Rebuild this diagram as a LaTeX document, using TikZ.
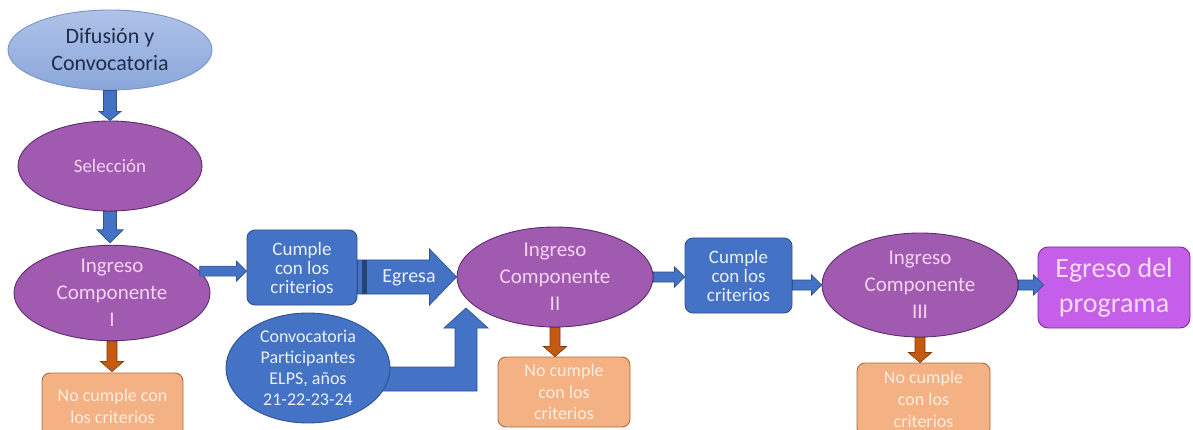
\documentclass[tikz,border=0pt]{standalone}
\usepackage{fontspec}
\setmainfont{Carlito}
\usetikzlibrary{calc,shapes.geometric}
\definecolor{myblue}{HTML}{4472C4}
\definecolor{mybluedark}{HTML}{2F528F}
\definecolor{lbtop}{HTML}{AFC3E8}
\definecolor{lbbot}{HTML}{8AA6DA}
\definecolor{lbline}{HTML}{7893CB}
\definecolor{lbtext}{HTML}{1F2D4D}
\definecolor{purp}{HTML}{A05BB0}
\definecolor{purpline}{HTML}{5B2C6F}
\definecolor{purptext}{HTML}{F4D2F0}
\definecolor{orfill}{HTML}{F4B183}
\definecolor{orline}{HTML}{B06A3A}
\definecolor{ortext}{HTML}{FDEDE0}
\definecolor{orarrow}{HTML}{C55A11}
\definecolor{orarrowline}{HTML}{843C0C}
\definecolor{vio}{HTML}{C55EE8}
\definecolor{violine}{HTML}{7A2E9A}
\definecolor{viotext}{HTML}{FADCF8}
\definecolor{bltext}{HTML}{EAF0FA}
\newcommand\barrowdraw[6]{%
  \path (#1) coordinate (bas) (#2) coordinate (bat);
  \path ($(bat)!#5!(bas)$) coordinate (bah);
  \draw[#6] ($(bas)!#3!90:(bat)$) -- ($(bah)!#3!90:(bat)$) -- ($(bah)!#4!90:(bat)$)
    -- (bat) -- ($(bah)!#4!-90:(bat)$) -- ($(bah)!#3!-90:(bat)$) -- ($(bas)!#3!-90:(bat)$) -- cycle;}
\tikzset{
  purpell/.style={ellipse, fill=purp, draw=purpline, line width=0.9pt, inner sep=0pt,
    align=center, text=purptext, font=\fontsize{21}{27}\selectfont},
  bluebox/.style={rectangle, rounded corners=8pt, fill=myblue, draw=mybluedark, line width=0.9pt,
    inner sep=0pt, align=center, text=bltext, font=\fontsize{19}{19}\selectfont},
  orbox/.style={rectangle, rounded corners=8pt, fill=orfill, draw=orline, line width=0.9pt,
    inner sep=0pt, align=center, text=ortext, font=\fontsize{18}{22}\selectfont},
  bluearr/.style={fill=myblue, draw=mybluedark, line width=0.7pt, line join=miter},
  orarr/.style={fill=orarrow, draw=orarrowline, line width=0.7pt, line join=miter}
}
\begin{document}
\begin{tikzpicture}[x=1pt,y=-1pt]
\useasboundingbox (0,0) rectangle (1193,430);
\clip (0,0) rectangle (1193,430);
\fill[white] (0,0) rectangle (1193,430);

% nodes
\node[ellipse, top color=lbtop, bottom color=lbbot, draw=lbline, line width=0.9pt, inner sep=0pt,
  minimum width=204pt, minimum height=80pt, align=center, text=lbtext,
  font=\fontsize{22}{27}\selectfont] (dif) at (110,50) {Difusión y\\Convocatoria};
\node[purpell, minimum width=184pt, minimum height=90pt, font=\fontsize{19}{24}\selectfont] (sel) at (110,166) {Selección};
\node[purpell, minimum width=196pt, minimum height=94pt] (ing1) at (112,293) {Ingreso\\Componente\\I};
\node[orbox, minimum width=141pt, minimum height=66pt] (no1) at (112.5,406) {No cumple con\\los criterios};
\node[bluebox, minimum width=110pt, minimum height=75pt] (cum1) at (302,267.5) {Cumple\\con los\\criterios};
\node[purpell, minimum width=196pt, minimum height=100pt] (ing2) at (555,277) {Ingreso\\Componente\\II};
\node[orbox, minimum width=132pt, minimum height=70pt, font=\fontsize{18}{21.5}\selectfont] (no2) at (564,392) {No cumple\\con los\\criterios};
\node[bluebox, minimum width=107pt, minimum height=75pt] (cum2) at (738.5,275.5) {Cumple\\con los\\criterios};
\node[purpell, minimum width=196pt, minimum height=104pt] (ing3) at (920,285) {Ingreso\\Componente\\III};
\node[orbox, minimum width=133pt, minimum height=73pt, font=\fontsize{18}{22}\selectfont] (no3) at (923.5,399.5) {No cumple\\con los\\criterios};
\node[rectangle, rounded corners=10pt, fill=vio, draw=violine, line width=0.9pt, inner sep=0pt,
  minimum width=152pt, minimum height=81pt, align=center, text=viotext,
  font=\fontsize{28}{35}\selectfont] (egr) at (1114,287.5) {Egreso del\\programa};

% bent arrow from Convocatoria to Ingreso II (drawn under the ellipse)
\coordinate (convc) at (308,368);
\coordinate (btip) at ($(ing2.center)+(-89,31)$);
\coordinate (bst) at ($(convc)+(70,11)$);
\draw[bluearr] let \p1=(btip), \p2=(bst) in
  (\x2,\y2+12pt) -- (\x1-11pt,\y2+12pt) -- (\x1-11pt,\y1-20pt) -- (\x1-22pt,\y1-20pt)
  -- (\x1,\y1) -- (\x1+22pt,\y1-20pt) -- (\x1+11pt,\y1-20pt) -- (\x1+11pt,\y2-12pt)
  -- (\x2,\y2-12pt) -- cycle;
\node[ellipse, fill=myblue, draw=mybluedark, line width=0.9pt, inner sep=0pt,
  minimum width=164pt, minimum height=110pt, align=center, text=bltext,
  font=\fontsize{18}{21}\selectfont] (conv) at (convc) {Convocatoria\\Participantes\\ELPS, años\\21-22-23-24};

% block arrows
\barrowdraw{dif.south}{sel.north}{6.5pt}{11pt}{9pt}{bluearr}
\barrowdraw{sel.south}{$(sel.south |- ing1.north)+(0,-2)$}{6.5pt}{13pt}{13pt}{bluearr}
\barrowdraw{ing1.south}{$(ing1.south |- no1.north)+(0,-1)$}{5pt}{11.5pt}{10pt}{orarr}
\barrowdraw{ing1.14}{ing1.14 -| cum1.west}{5pt}{10pt}{10pt}{bluearr}
\barrowdraw{cum1.east |- ing2.west}{ing2.west}{17pt}{28pt}{27pt}{bluearr}
\coordinate (egs) at (cum1.east |- ing2.west);
\fill[mybluedark!80!black] ($(egs)+(5,-17)$) rectangle ($(egs)+(10,17)$);
\node[text=bltext, font=\fontsize{20}{24}\selectfont, inner sep=0pt] (egresa) at ($(egs)!0.5!(ing2.west)+(2,1)$) {Egresa};
\barrowdraw{ing2.east}{ing2.east -| cum2.west}{5pt}{10pt}{10pt}{bluearr}
\barrowdraw{ing2.south}{ing2.south |- no2.north}{5pt}{11.5pt}{10pt}{orarr}
\barrowdraw{cum2.east |- ing3.west}{ing3.west}{5pt}{10pt}{10pt}{bluearr}
\barrowdraw{ing3.south}{ing3.south |- no3.north}{5pt}{11.5pt}{10pt}{orarr}
\barrowdraw{ing3.east}{$(ing3.east -| egr.west)+(6,0)$}{5pt}{10pt}{10pt}{bluearr}
\end{tikzpicture}
\end{document}
